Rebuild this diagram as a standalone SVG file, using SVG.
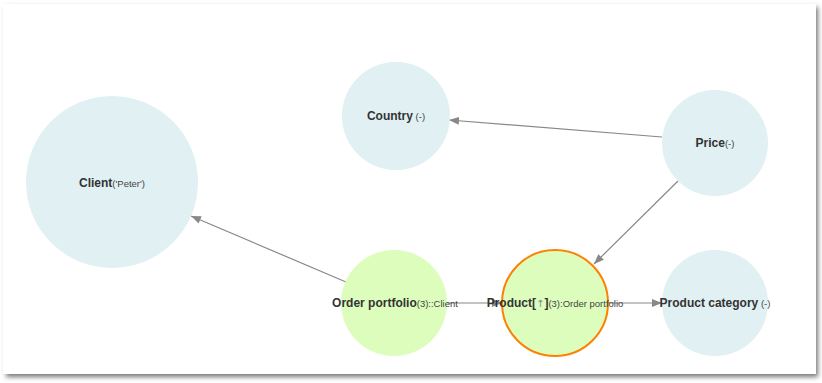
<svg xmlns="http://www.w3.org/2000/svg" width="822" height="383" viewBox="0 0 822 383">
<defs>
<filter id="sh" x="-5%" y="-5%" width="110%" height="115%">
<feGaussianBlur stdDeviation="2.5"/>
</filter>
<marker id="arr" viewBox="0 0 10 10" refX="10" refY="5" markerWidth="10" markerHeight="10" markerUnits="userSpaceOnUse" orient="auto">
<path d="M0,1 L10,5 L0,9 Z" fill="#888"/>
</marker>
</defs>
<style>
.node{fill:#e0f0f3}
.sel{fill:#dcfdbc}
.edge{stroke:#888;stroke-width:1.2;fill:none;marker-end:url(#arr)}
.lbl{font-family:"Liberation Sans",Arial,sans-serif;font-size:12px;font-weight:bold;fill:#333;text-anchor:middle}
.sub{font-size:9.5px;font-weight:normal;fill:#444}
.up{font-family:"DejaVu Sans",sans-serif;font-size:10px;font-weight:normal;fill:#888}
</style>
<rect x="0" y="0" width="822" height="383" fill="#ffffff"/>
<rect x="6" y="7" width="812" height="370" fill="#777" filter="url(#sh)"/>
<rect x="3" y="4" width="813" height="370" fill="#ffffff"/>
<g id="connectors">
<line class="edge" x1="346" y1="282" x2="191" y2="216"/>
<line class="edge" x1="662" y1="137" x2="449" y2="120"/>
<line class="edge" x1="678" y1="181" x2="594" y2="264"/>
<line class="edge" x1="447" y1="303" x2="502" y2="303"/>
<line class="edge" x1="608" y1="303" x2="662" y2="303"/>
</g>
<g id="client">
<circle class="node" cx="112" cy="182" r="86"/>
<text class="lbl" x="112" y="187">Client<tspan class="sub">('Peter')</tspan></text>
</g>
<g id="country">
<circle class="node" cx="396" cy="116" r="54"/>
<text class="lbl" x="396" y="120">Country<tspan class="sub"> (-)</tspan></text>
</g>
<g id="price">
<circle class="node" cx="715" cy="143" r="53"/>
<text class="lbl" x="715" y="147">Price<tspan class="sub">(-)</tspan></text>
</g>
<g id="order-portfolio">
<circle class="sel" cx="394" cy="303" r="53"/>
<text class="lbl" x="395" y="307">Order portfolio<tspan class="sub">(3)::Client</tspan></text>
</g>
<g id="product">
<circle class="sel" cx="555" cy="303" r="53" stroke="#ff8000" stroke-width="2"/>
<text class="lbl" x="555" y="307">Product[<tspan class="up">↑</tspan>]<tspan class="sub">(3):Order portfolio</tspan></text>
</g>
<g id="product-category">
<circle class="node" cx="715" cy="303" r="53"/>
<text class="lbl" x="715" y="307">Product category<tspan class="sub"> (-)</tspan></text>
</g>
</svg>
